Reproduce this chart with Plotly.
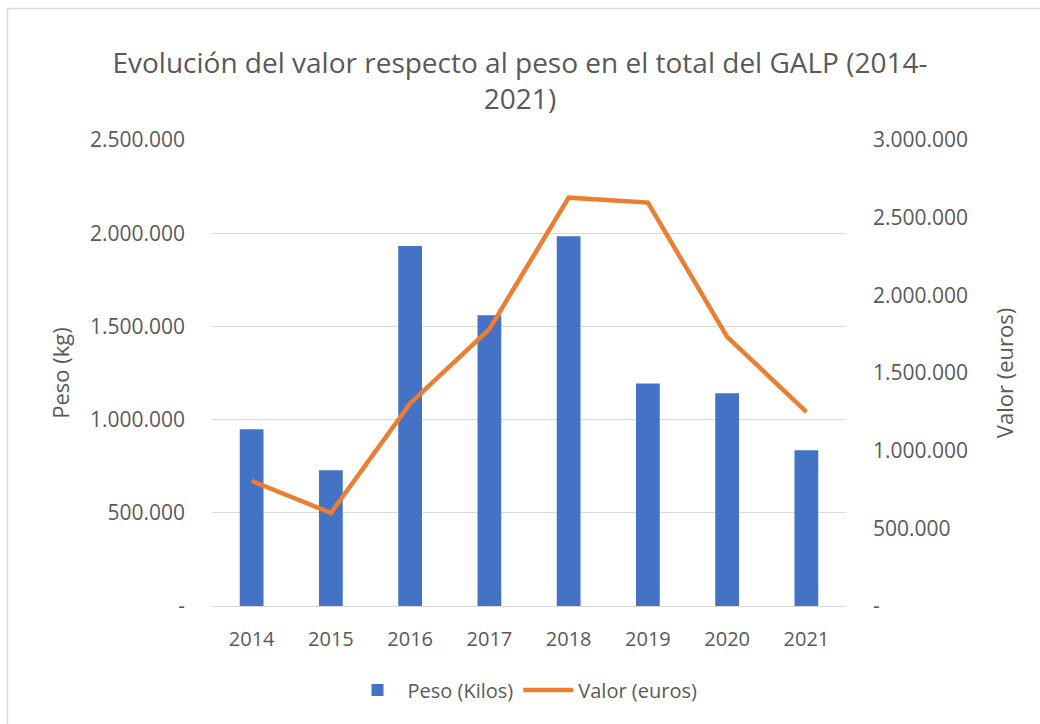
import plotly.graph_objects as go

years = ["2014", "2015", "2016", "2017", "2018", "2019", "2020", "2021"]
peso_kilos = [948000, 728000, 1931000, 1560000, 1984000, 1194000, 1142000, 836000]
valor_euros = [805000, 599000, 1304000, 1783000, 2629000, 2597000, 1733000, 1250000]

left_tickvals = [0, 500000, 1000000, 1500000, 2000000, 2500000]
left_ticktext = ["-", "500.000", "1.000.000", "1.500.000", "2.000.000", "2.500.000"]
right_tickvals = [0, 500000, 1000000, 1500000, 2000000, 2500000, 3000000]
right_ticktext = ["-", "500.000", "1.000.000", "1.500.000", "2.000.000", "2.500.000", "3.000.000"]

TXT = "#595959"
FONT = "Open Sans"

W, H = 1040, 724
L, T, PW, PH = 212, 140, 634, 466

fig = go.Figure()
fig.add_trace(go.Bar(x=years, y=peso_kilos, name="Peso (Kilos)",
                     marker=dict(color="#4472C4", line=dict(width=0)), yaxis="y"))
fig.add_trace(go.Scatter(x=years, y=valor_euros, name="Valor (euros)", mode="lines",
                         line=dict(color="#ED7D31", width=4.5), yaxis="y2"))

bx0 = (7.5 - L) / PW
by1 = 1 + (T - 8.5) / PH

fig.update_layout(
    width=W, height=H,
    margin=dict(l=L, r=W - L - PW, t=T, b=H - T - PH, autoexpand=False),
    paper_bgcolor="white", plot_bgcolor="white",
    font=dict(family=FONT, color=TXT, size=20),
    title=dict(text="Evolución del valor respecto al peso en el total del GALP (2014-<br>2021)",
               xref="container", x=0.5, xanchor="center",
               y=1 - 73 / H, yanchor="middle",
               font=dict(family=FONT, size=28, color=TXT)),
    bargap=0.7,
    showlegend=True,
    legend=dict(orientation="h", xref="container", x=525 / W, xanchor="center",
                yref="container", y=1 - 690 / H, yanchor="middle",
                font=dict(family=FONT, size=20, color=TXT), itemwidth=50),
    xaxis=dict(showgrid=False, showline=True, linecolor="#d9d9d9", linewidth=1, automargin=False,
               ticks="", tickfont=dict(size=20, color=TXT), ticklabelstandoff=15),
    yaxis=dict(range=[0, 2500000], tickvals=left_tickvals, ticktext=left_ticktext, automargin=False,
               showgrid=True, gridcolor="#d9d9d9", gridwidth=1, zeroline=False,
               showline=False, ticks="", ticklabelstandoff=26,
               tickfont=dict(size=21, color=TXT),
               title=dict(text="Peso (kg)", standoff=14, font=dict(size=22, color=TXT))),
    yaxis2=dict(range=[0, 3000000], tickvals=right_tickvals, ticktext=right_ticktext, automargin=False,
                overlaying="y", side="right", showgrid=False, zeroline=False,
                showline=False, ticks="", ticklabelstandoff=26,
                tickfont=dict(size=21, color=TXT),
                title=dict(text="Valor (euros)", standoff=30, font=dict(size=22, color=TXT))),
    shapes=[
        dict(type="line", xref="paper", yref="paper", x0=bx0, x1=1.5, y0=by1, y1=by1,
             line=dict(color="#d9d9d9", width=1.5), layer="below"),
        dict(type="line", xref="paper", yref="paper", x0=bx0, x1=bx0, y0=-0.5, y1=by1,
             line=dict(color="#d9d9d9", width=1.5), layer="below"),
    ],
)

fig.write_html("out.html",
               config={"displayModeBar": False},
               post_script="document.body.style.margin='0';document.body.style.overflow='hidden';")
